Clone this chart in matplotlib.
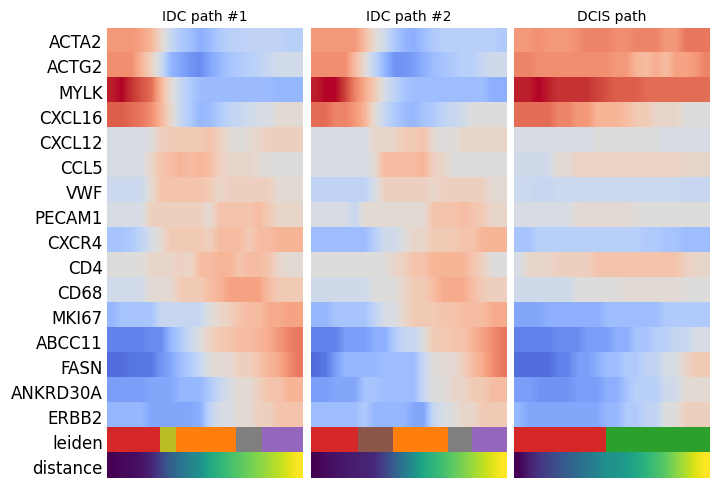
import numpy as np
import matplotlib.pyplot as plt
from matplotlib.colors import ListedColormap

genes = ['ACTA2', 'ACTG2', 'MYLK', 'CXCL16', 'CXCL12', 'CCL5', 'VWF', 'PECAM1',
         'CXCR4', 'CD4', 'CD68', 'MKI67', 'ABCC11', 'FASN', 'ANKRD30A', 'ERBB2']
titles = ['IDC path #1', 'IDC path #2', 'DCIS path']

# scaled expression along each path (20 bins)
idc1 = [
    [0.5, 0.5, 0.5, 0.45, 0.35, 0.1, -0.15, -0.3, -0.38, -0.5, -0.42, -0.3, -0.25, -0.22, -0.2, -0.2, -0.2, -0.2, -0.25, -0.25],
    [0.55, 0.55, 0.55, 0.35, 0.15, -0.1, -0.45, -0.55, -0.65, -0.7, -0.55, -0.45, -0.35, -0.3, -0.25, -0.22, -0.15, -0.08, -0.08, -0.08],
    [0.95, 1.0, 0.9, 0.8, 0.7, 0.35, 0.05, -0.15, -0.3, -0.4, -0.42, -0.42, -0.42, -0.42, -0.42, -0.42, -0.42, -0.45, -0.45, -0.45],
    [0.75, 0.75, 0.7, 0.65, 0.55, 0.35, 0.1, -0.15, -0.3, -0.45, -0.4, -0.3, -0.2, -0.15, -0.1, -0.05, -0.05, 0.05, 0.05, 0.05],
    [-0.05, -0.05, -0.05, -0.05, 0.0, 0.15, 0.2, 0.2, 0.2, 0.2, 0.25, 0.15, 0.05, 0.0, 0.05, 0.1, 0.15, 0.15, 0.15, 0.15],
    [-0.05, -0.05, -0.05, -0.05, 0.1, 0.25, 0.3, 0.35, 0.3, 0.35, 0.3, 0.15, 0.1, 0.1, 0.1, 0.05, 0.0, 0.0, 0.0, 0.0],
    [-0.12, -0.12, -0.12, -0.12, 0.05, 0.25, 0.25, 0.25, 0.25, 0.25, 0.2, 0.1, 0.15, 0.15, 0.15, 0.15, 0.15, 0.05, 0.05, 0.05],
    [-0.05, -0.05, -0.05, -0.05, 0.15, 0.15, 0.15, 0.15, 0.15, 0.15, 0.05, 0.25, 0.25, 0.25, 0.25, 0.3, 0.2, 0.1, 0.1, 0.1],
    [-0.35, -0.35, -0.3, -0.2, -0.05, 0.05, 0.2, 0.2, 0.2, 0.2, 0.15, 0.3, 0.3, 0.3, 0.2, 0.3, 0.3, 0.35, 0.35, 0.35],
    [0.0, 0.0, 0.0, 0.0, 0.1, 0.1, 0.1, 0.15, 0.1, 0.3, 0.3, 0.35, 0.35, 0.25, 0.3, 0.3, 0.25, 0.1, 0.05, 0.05],
    [-0.08, -0.08, -0.08, -0.08, 0.05, 0.05, 0.05, 0.2, 0.2, 0.2, 0.3, 0.35, 0.45, 0.45, 0.45, 0.45, 0.3, 0.2, 0.2, 0.2],
    [-0.45, -0.35, -0.35, -0.35, -0.35, -0.15, -0.15, -0.15, -0.15, -0.15, 0.0, 0.1, 0.15, 0.25, 0.3, 0.3, 0.4, 0.4, 0.45, 0.45],
    [-0.75, -0.75, -0.75, -0.75, -0.7, -0.7, -0.45, -0.3, -0.15, 0.0, 0.15, 0.2, 0.25, 0.3, 0.3, 0.35, 0.4, 0.5, 0.6, 0.65],
    [-0.85, -0.85, -0.8, -0.8, -0.8, -0.65, -0.55, -0.4, -0.3, -0.15, 0.0, 0.05, 0.05, 0.15, 0.15, 0.25, 0.35, 0.4, 0.55, 0.65],
    [-0.6, -0.6, -0.6, -0.6, -0.55, -0.55, -0.55, -0.45, -0.45, -0.45, -0.3, -0.15, -0.05, 0.05, 0.05, 0.15, 0.25, 0.25, 0.35, 0.35],
    [-0.45, -0.45, -0.45, -0.45, -0.55, -0.55, -0.55, -0.55, -0.55, -0.5, -0.2, -0.05, -0.05, 0.05, 0.05, 0.15, 0.15, 0.25, 0.25, 0.25],
]
idc2 = [
    [0.5, 0.5, 0.5, 0.5, 0.5, 0.3, 0.05, -0.1, -0.3, -0.45, -0.5, -0.4, -0.3, -0.25, -0.25, -0.25, -0.25, -0.25, -0.25, -0.3],
    [0.55, 0.55, 0.55, 0.55, 0.3, 0.05, -0.2, -0.45, -0.65, -0.65, -0.6, -0.5, -0.4, -0.35, -0.3, -0.25, -0.25, -0.15, -0.1, -0.1],
    [0.95, 1.0, 1.0, 0.85, 0.6, 0.4, 0.2, -0.05, -0.2, -0.35, -0.4, -0.4, -0.4, -0.4, -0.4, -0.4, -0.4, -0.4, -0.5, -0.5],
    [0.7, 0.7, 0.6, 0.6, 0.5, 0.35, 0.05, -0.15, -0.3, -0.4, -0.45, -0.35, -0.3, -0.2, -0.15, -0.1, 0.0, 0.0, 0.0, 0.0],
    [-0.05, -0.05, -0.05, -0.05, -0.05, -0.05, 0.1, 0.1, 0.1, 0.2, 0.2, 0.25, 0.05, 0.0, 0.0, 0.1, 0.1, 0.1, 0.1, 0.1],
    [-0.05, -0.05, -0.05, -0.05, -0.05, -0.05, 0.05, 0.3, 0.3, 0.3, 0.3, 0.35, 0.15, 0.1, 0.0, 0.0, 0.0, 0.0, 0.0, 0.0],
    [-0.2, -0.2, -0.2, -0.2, -0.2, -0.2, -0.05, 0.15, 0.15, 0.15, 0.15, 0.15, 0.1, 0.15, 0.15, 0.15, 0.15, 0.15, 0.05, 0.05],
    [-0.05, -0.05, -0.05, -0.05, -0.15, 0.05, 0.05, 0.05, 0.05, 0.05, 0.05, 0.05, 0.25, 0.25, 0.25, 0.3, 0.25, 0.2, 0.1, 0.1],
    [-0.4, -0.4, -0.4, -0.4, -0.4, -0.4, -0.25, -0.1, -0.1, 0.0, 0.1, 0.1, 0.2, 0.2, 0.2, 0.25, 0.25, 0.35, 0.35, 0.35],
    [0.0, 0.0, 0.0, 0.0, 0.0, 0.0, 0.0, 0.0, 0.1, 0.15, 0.25, 0.25, 0.35, 0.35, 0.35, 0.35, 0.25, 0.15, 0.0, 0.0],
    [-0.1, -0.1, -0.1, -0.1, -0.1, -0.1, 0.0, 0.0, 0.0, 0.1, 0.2, 0.2, 0.3, 0.4, 0.4, 0.4, 0.3, 0.2, 0.15, 0.15],
    [-0.45, -0.45, -0.35, -0.35, -0.35, -0.35, -0.2, -0.05, -0.05, 0.1, 0.2, 0.2, 0.2, 0.25, 0.25, 0.3, 0.3, 0.3, 0.4, 0.4],
    [-0.75, -0.75, -0.75, -0.6, -0.6, -0.6, -0.5, -0.5, -0.3, -0.15, -0.15, 0.0, 0.2, 0.2, 0.25, 0.25, 0.35, 0.45, 0.55, 0.65],
    [-0.85, -0.8, -0.6, -0.45, -0.45, -0.45, -0.45, -0.4, -0.4, -0.4, -0.4, -0.15, 0.0, 0.05, 0.05, 0.15, 0.3, 0.4, 0.55, 0.65],
    [-0.6, -0.6, -0.55, -0.55, -0.55, -0.35, -0.35, -0.4, -0.4, -0.4, -0.4, -0.15, 0.0, 0.0, 0.1, 0.1, 0.2, 0.2, 0.3, 0.3],
    [-0.4, -0.4, -0.4, -0.4, -0.4, -0.3, -0.45, -0.45, -0.45, -0.45, -0.55, -0.55, -0.15, -0.05, 0.0, 0.1, 0.1, 0.2, 0.2, 0.2],
]
dcis = [
    [0.5, 0.5, 0.55, 0.5, 0.5, 0.5, 0.55, 0.6, 0.6, 0.6, 0.55, 0.55, 0.6, 0.6, 0.6, 0.5, 0.5, 0.65, 0.65, 0.65],
    [0.6, 0.6, 0.55, 0.55, 0.55, 0.55, 0.55, 0.55, 0.55, 0.55, 0.5, 0.5, 0.35, 0.3, 0.4, 0.3, 0.45, 0.45, 0.5, 0.6],
    [0.95, 0.95, 1.0, 0.95, 0.9, 0.9, 0.9, 0.9, 0.85, 0.8, 0.75, 0.75, 0.75, 0.7, 0.7, 0.7, 0.7, 0.7, 0.7, 0.7],
    [0.7, 0.7, 0.7, 0.7, 0.6, 0.6, 0.5, 0.5, 0.35, 0.35, 0.35, 0.3, 0.2, 0.2, 0.1, 0.1, 0.1, 0.0, 0.0, 0.0],
    [-0.05, -0.05, -0.05, -0.05, -0.05, -0.05, -0.05, -0.05, 0.0, 0.0, 0.0, 0.0, 0.0, 0.0, 0.0, -0.05, -0.05, -0.05, -0.05, -0.05],
    [-0.1, -0.1, -0.1, -0.1, 0.05, 0.05, 0.12, 0.12, 0.12, 0.12, 0.12, 0.12, 0.12, 0.12, 0.12, 0.12, 0.12, 0.1, 0.1, 0.1],
    [-0.12, -0.12, -0.15, -0.15, -0.12, -0.12, -0.12, -0.12, -0.12, -0.12, -0.12, -0.12, -0.12, -0.12, -0.12, -0.12, -0.12, -0.15, -0.15, -0.15],
    [-0.05, -0.05, -0.05, -0.05, -0.05, -0.05, 0.05, 0.05, 0.05, 0.05, 0.05, 0.05, 0.0, 0.0, 0.0, 0.0, 0.0, 0.0, 0.0, 0.0],
    [-0.35, -0.35, -0.25, -0.25, -0.25, -0.25, -0.25, -0.25, -0.25, -0.25, -0.25, -0.25, -0.25, -0.3, -0.3, -0.35, -0.35, -0.4, -0.4, -0.4],
    [-0.05, 0.1, 0.1, 0.1, 0.15, 0.15, 0.15, 0.15, 0.25, 0.25, 0.25, 0.25, 0.25, 0.25, 0.25, 0.25, 0.25, 0.15, 0.1, 0.1],
    [-0.1, -0.1, -0.1, -0.1, -0.1, -0.1, 0.0, 0.0, 0.0, 0.0, 0.0, 0.05, 0.05, 0.05, 0.05, 0.05, 0.05, 0.0, 0.0, 0.0],
    [-0.55, -0.55, -0.55, -0.5, -0.5, -0.5, -0.5, -0.5, -0.5, -0.4, -0.4, -0.4, -0.4, -0.4, -0.4, -0.3, -0.3, -0.3, -0.3, -0.3],
    [-0.75, -0.75, -0.75, -0.75, -0.7, -0.7, -0.7, -0.6, -0.6, -0.6, -0.5, -0.5, -0.35, -0.35, -0.25, -0.25, -0.15, -0.15, -0.05, -0.05],
    [-0.85, -0.85, -0.85, -0.85, -0.75, -0.75, -0.6, -0.6, -0.5, -0.4, -0.4, -0.3, -0.3, -0.2, -0.2, -0.05, -0.05, 0.1, 0.2, 0.2],
    [-0.6, -0.6, -0.65, -0.65, -0.65, -0.65, -0.6, -0.6, -0.6, -0.5, -0.5, -0.35, -0.25, -0.25, -0.25, -0.1, -0.1, 0.05, 0.05, 0.05],
    [-0.45, -0.55, -0.55, -0.55, -0.55, -0.55, -0.55, -0.55, -0.55, -0.45, -0.45, -0.3, -0.3, -0.2, -0.2, 0.0, 0.0, 0.15, 0.15, 0.15],
]

# leiden clusters along each path: (cluster, number of cells)
leiden_colors = {'0': '#d62728', '1': '#2ca02c', '2': '#bcbd22', '3': '#8c564b',
                 '4': '#ff7f0e', '5': '#7f7f7f', '6': '#9467bd'}
leiden1 = [('0', 27), ('2', 8), ('4', 31), ('5', 13), ('6', 21)]
leiden2 = [('0', 24), ('3', 18), ('4', 28), ('5', 12), ('6', 18)]
leiden3 = [('0', 47), ('1', 53)]

# distance (pseudotime) along each path
dist1 = [0.0, 0.02, 0.03, 0.05, 0.1, 0.2, 0.3, 0.38, 0.45, 0.5, 0.6, 0.65, 0.7, 0.74, 0.78, 0.82, 0.86, 0.9, 0.95, 1.0]
dist2 = [0.0, 0.03, 0.05, 0.07, 0.08, 0.1, 0.12, 0.2, 0.3, 0.4, 0.5, 0.6, 0.65, 0.7, 0.75, 0.8, 0.85, 0.9, 0.95, 1.0]
dist3 = [0.0, 0.08, 0.15, 0.2, 0.25, 0.3, 0.35, 0.4, 0.45, 0.5, 0.52, 0.55, 0.6, 0.65, 0.7, 0.75, 0.82, 0.88, 0.95, 1.0]

paths = [(idc1, leiden1, dist1), (idc2, leiden2, dist2), (dcis, leiden3, dist3)]

keys = list(leiden_colors.keys())
leiden_cmap = ListedColormap([leiden_colors[k] for k in keys])

fig = plt.figure(figsize=(7.18, 4.89), dpi=100)
lefts = [0.149, 0.433, 0.716]
n = len(genes)

for i, (expr, leiden, dist) in enumerate(paths):
    ax = fig.add_axes([lefts[i], 0.0204, 0.2716, 0.9203])
    # one image per gene so smoothing only runs along the path
    for r, row in enumerate(expr):
        ax.imshow(np.array(row)[None, :], cmap='coolwarm', vmin=-1, vmax=1, aspect='auto',
                  interpolation='bilinear', extent=(0, 1, r + 1, r))
    codes = np.concatenate([np.full(cnt, keys.index(c)) for c, cnt in leiden])
    ax.imshow(codes[None, :], cmap=leiden_cmap, vmin=-0.5, vmax=len(keys) - 0.5,
              aspect='auto', interpolation='nearest', extent=(0, 1, n + 1, n))
    ax.imshow(np.array(dist)[None, :], cmap='viridis', vmin=0, vmax=1, aspect='auto',
              interpolation='bilinear', extent=(0, 1, n + 2, n + 1))
    ax.set_xlim(0, 1)
    ax.set_ylim(n + 2, 0)
    ax.set_xticks([])
    ax.set_title(titles[i], fontsize=10)
    for s in ax.spines.values():
        s.set_visible(False)
    if i == 0:
        ax.set_yticks(np.arange(n + 2) + 0.5)
        ax.set_yticklabels(genes + ['leiden', 'distance'], fontsize=12)
        ax.tick_params(axis='y', length=0, pad=3)
    else:
        ax.set_yticks([])

plt.savefig('out.png', dpi=100)
